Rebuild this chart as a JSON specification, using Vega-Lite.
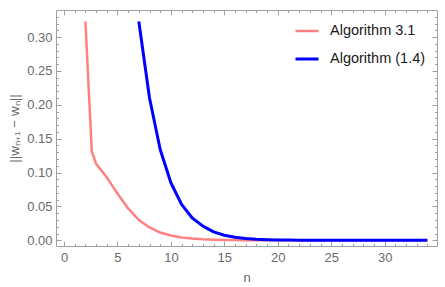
{
  "$schema": "https://vega.github.io/schema/vega-lite/v6.json",
  "width": 381,
  "height": 236,
  "autosize": "none",
  "padding": {"left": 56, "top": 10, "right": 8, "bottom": 41},
  "background": "white",
  "config": {
    "view": {"stroke": "#a0a0a0", "strokeWidth": 1},
    "font": "Liberation Sans",
    "axis": {
      "grid": false,
      "domain": false,
      "tickColor": "#a0a0a0",
      "tickWidth": 1,
      "labelColor": "#6b6b6b",
      "labelFont": "Liberation Sans",
      "labelFontSize": 13,
      "titleColor": "#6b6b6b",
      "titleFont": "Liberation Sans",
      "titleFontWeight": "normal",
      "titleFontSize": 13
    }
  },
  "data": {
    "values": [
      {"n": 2, "v": 0.323, "series": "Algorithm 3.1"},
      {"n": 2.6, "v": 0.131, "series": "Algorithm 3.1"},
      {"n": 3, "v": 0.113, "series": "Algorithm 3.1"},
      {"n": 4, "v": 0.093, "series": "Algorithm 3.1"},
      {"n": 5, "v": 0.069, "series": "Algorithm 3.1"},
      {"n": 6, "v": 0.047, "series": "Algorithm 3.1"},
      {"n": 7, "v": 0.030, "series": "Algorithm 3.1"},
      {"n": 8, "v": 0.019, "series": "Algorithm 3.1"},
      {"n": 9, "v": 0.0115, "series": "Algorithm 3.1"},
      {"n": 10, "v": 0.007, "series": "Algorithm 3.1"},
      {"n": 11, "v": 0.0042, "series": "Algorithm 3.1"},
      {"n": 12, "v": 0.0026, "series": "Algorithm 3.1"},
      {"n": 13, "v": 0.0016, "series": "Algorithm 3.1"},
      {"n": 14, "v": 0.001, "series": "Algorithm 3.1"},
      {"n": 15, "v": 0.0006, "series": "Algorithm 3.1"},
      {"n": 16, "v": 0.0004, "series": "Algorithm 3.1"},
      {"n": 17, "v": 0.00025, "series": "Algorithm 3.1"},
      {"n": 18, "v": 0.00015, "series": "Algorithm 3.1"},
      {"n": 19, "v": 0.0001, "series": "Algorithm 3.1"},
      {"n": 20, "v": 0.00006, "series": "Algorithm 3.1"},
      {"n": 22, "v": 0.00003, "series": "Algorithm 3.1"},
      {"n": 25, "v": 0.00001, "series": "Algorithm 3.1"},
      {"n": 30, "v": 0.0, "series": "Algorithm 3.1"},
      {"n": 34, "v": 0.0, "series": "Algorithm 3.1"},
      {"n": 7, "v": 0.323, "series": "Algorithm (1.4)"},
      {"n": 8, "v": 0.210, "series": "Algorithm (1.4)"},
      {"n": 9, "v": 0.134, "series": "Algorithm (1.4)"},
      {"n": 10, "v": 0.085, "series": "Algorithm (1.4)"},
      {"n": 11, "v": 0.053, "series": "Algorithm (1.4)"},
      {"n": 12, "v": 0.033, "series": "Algorithm (1.4)"},
      {"n": 13, "v": 0.021, "series": "Algorithm (1.4)"},
      {"n": 14, "v": 0.0125, "series": "Algorithm (1.4)"},
      {"n": 15, "v": 0.0075, "series": "Algorithm (1.4)"},
      {"n": 16, "v": 0.0045, "series": "Algorithm (1.4)"},
      {"n": 17, "v": 0.0028, "series": "Algorithm (1.4)"},
      {"n": 18, "v": 0.0017, "series": "Algorithm (1.4)"},
      {"n": 19, "v": 0.001, "series": "Algorithm (1.4)"},
      {"n": 20, "v": 0.0006, "series": "Algorithm (1.4)"},
      {"n": 21, "v": 0.0004, "series": "Algorithm (1.4)"},
      {"n": 22, "v": 0.00025, "series": "Algorithm (1.4)"},
      {"n": 23, "v": 0.00015, "series": "Algorithm (1.4)"},
      {"n": 24, "v": 0.0001, "series": "Algorithm (1.4)"},
      {"n": 25, "v": 0.00006, "series": "Algorithm (1.4)"},
      {"n": 27, "v": 0.00003, "series": "Algorithm (1.4)"},
      {"n": 30, "v": 0.00001, "series": "Algorithm (1.4)"},
      {"n": 34, "v": 0.0, "series": "Algorithm (1.4)"}
    ]
  },
  "layer": [
    {
      "mark": {"type": "line", "strokeJoin": "round", "clip": true},
      "encoding": {
        "x": {
          "field": "n", "type": "quantitative",
          "scale": {"domain": [-0.75, 34.9], "nice": false, "zero": false},
          "axis": {"orient": "bottom", "values": [0, 5, 10, 15, 20, 25, 30], "tickSize": -5, "labelPadding": 10, "title": "n", "titlePadding": 7}
        },
        "y": {
          "field": "v", "type": "quantitative",
          "scale": {"domain": [-0.0084, 0.34], "nice": false, "zero": false},
          "axis": {"orient": "left", "values": [0, 0.05, 0.1, 0.15, 0.2, 0.25, 0.3], "format": ".2f", "tickSize": -5, "labelPadding": 9, "title": "||wₙ₊₁ − wₙ||", "titlePadding": 5, "titleFontSize": 13.5}
        },
        "color": {
          "field": "series", "type": "nominal",
          "scale": {"domain": ["Algorithm 3.1", "Algorithm (1.4)"], "range": ["#ff8080", "#0000ff"]},
          "legend": {
            "title": null, "orient": "none", "legendX": 238, "legendY": 8,
            "padding": 0, "symbolType": "stroke", "symbolSize": 529, "symbolStrokeWidth": 2.6,
            "labelFont": "Liberation Sans", "labelFontSize": 14.5, "labelColor": "#1a1a1a",
            "labelOffset": 10, "rowPadding": 8
          }
        },
        "strokeWidth": {
          "field": "series", "type": "nominal",
          "scale": {"domain": ["Algorithm 3.1", "Algorithm (1.4)"], "range": [2.5, 3]},
          "legend": null
        }
      }
    },
    {
      "mark": {"type": "point", "opacity": 0, "size": 0},
      "encoding": {
        "x": {
          "field": "n", "type": "quantitative",
          "scale": {"domain": [-0.75, 34.9], "nice": false, "zero": false},
          "axis": {"orient": "bottom", "values": [0,1,2,3,4,5,6,7,8,9,10,11,12,13,14,15,16,17,18,19,20,21,22,23,24,25,26,27,28,29,30,31,32,33,34], "tickSize": -2.5, "labels": false, "title": null}
        },
        "y": {
          "field": "v", "type": "quantitative",
          "scale": {"domain": [-0.0084, 0.34], "nice": false, "zero": false},
          "axis": {"orient": "left", "values": [0,0.01,0.02,0.03,0.04,0.05,0.06,0.07,0.08,0.09,0.1,0.11,0.12,0.13,0.14,0.15,0.16,0.17,0.18,0.19,0.2,0.21,0.22,0.23,0.24,0.25,0.26,0.27,0.28,0.29,0.3,0.31,0.32,0.33], "tickSize": -2.5, "labels": false, "title": null}
        }
      }
    },
    {
      "mark": {"type": "point", "opacity": 0, "size": 0},
      "encoding": {
        "x": {
          "field": "n", "type": "quantitative",
          "scale": {"domain": [-0.75, 34.9], "nice": false, "zero": false},
          "axis": {"orient": "top", "values": [0, 5, 10, 15, 20, 25, 30], "tickSize": -5, "labels": false, "title": null}
        },
        "y": {
          "field": "v", "type": "quantitative",
          "scale": {"domain": [-0.0084, 0.34], "nice": false, "zero": false},
          "axis": {"orient": "right", "values": [0, 0.05, 0.1, 0.15, 0.2, 0.25, 0.3], "tickSize": -5, "labels": false, "title": null}
        }
      }
    },
    {
      "mark": {"type": "point", "opacity": 0, "size": 0},
      "encoding": {
        "x": {
          "field": "n", "type": "quantitative",
          "scale": {"domain": [-0.75, 34.9], "nice": false, "zero": false},
          "axis": {"orient": "top", "values": [0,1,2,3,4,5,6,7,8,9,10,11,12,13,14,15,16,17,18,19,20,21,22,23,24,25,26,27,28,29,30,31,32,33,34], "tickSize": -2.5, "labels": false, "title": null}
        },
        "y": {
          "field": "v", "type": "quantitative",
          "scale": {"domain": [-0.0084, 0.34], "nice": false, "zero": false},
          "axis": {"orient": "right", "values": [0,0.01,0.02,0.03,0.04,0.05,0.06,0.07,0.08,0.09,0.1,0.11,0.12,0.13,0.14,0.15,0.16,0.17,0.18,0.19,0.2,0.21,0.22,0.23,0.24,0.25,0.26,0.27,0.28,0.29,0.3,0.31,0.32,0.33], "tickSize": -2.5, "labels": false, "title": null}
        }
      }
    }
  ],
  "resolve": {"scale": {"x": "independent", "y": "independent"}, "axis": {"x": "independent", "y": "independent"}}
}
